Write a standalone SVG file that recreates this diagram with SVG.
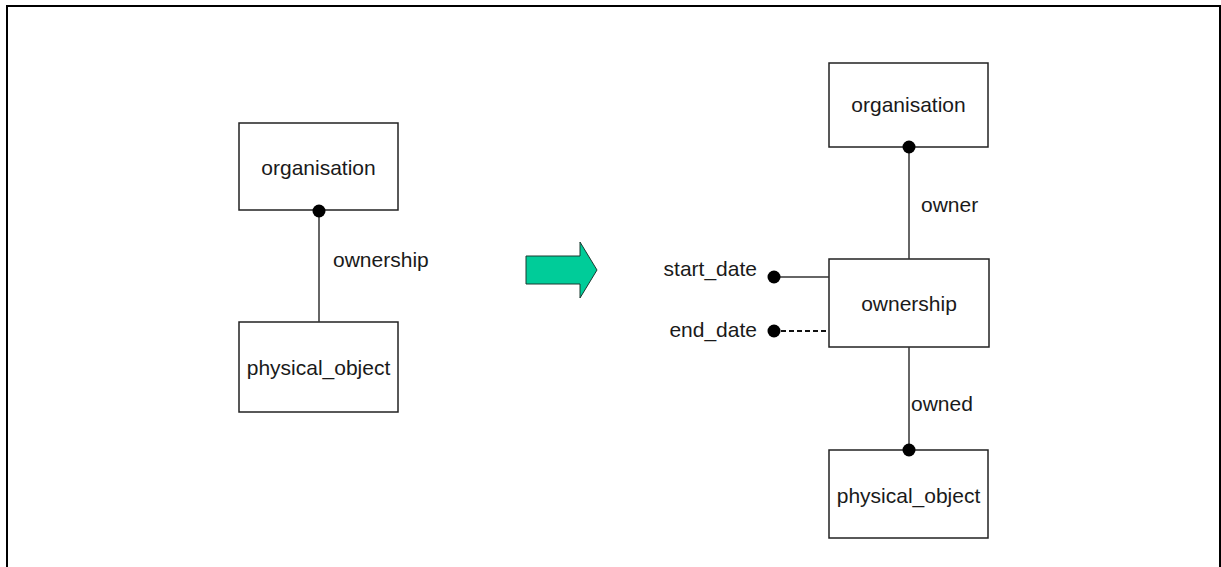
<svg xmlns="http://www.w3.org/2000/svg" width="1221" height="567" viewBox="0 0 1221 567">
  <style>
    .box { fill: #ffffff; stroke: #222222; stroke-width: 1.5; }
    .link { stroke: #333333; stroke-width: 1.5; fill: none; }
    .dash { stroke-dasharray: 5 3; stroke-width: 2; stroke: #111111; }
    .dot { fill: #000000; }
    text { font-family: "Liberation Sans", Arial, sans-serif; font-size: 21px; fill: #1a1a1a; }
    .mid { text-anchor: middle; }
    .end { text-anchor: end; }
  </style>
  <rect width="1221" height="567" fill="#ffffff"/>
  <!-- outer frame -->
  <rect x="7" y="6" width="1213" height="570" fill="none" stroke="#000000" stroke-width="2"/>

  <!-- left: simple relationship -->
  <g id="org-left">
    <rect class="box" x="239" y="123" width="159" height="87"/>
    <text class="mid" x="318.5" y="175">organisation</text>
  </g>
  <g id="phys-left">
    <rect class="box" x="239" y="322" width="159" height="90"/>
    <text class="mid" x="318.5" y="375">physical_object</text>
  </g>

  <!-- transformation arrow -->
  <g id="arrow">
    <polygon points="526,256 580,256 580,242 597,270 580,298 580,284 526,284" fill="#00cc99" stroke="#1a3a30" stroke-width="1"/>
  </g>

  <!-- right: relationship as entity -->
  <g id="org-right">
    <rect class="box" x="829" y="63" width="159" height="84"/>
    <text class="mid" x="908.5" y="112">organisation</text>
  </g>
  <g id="ownership">
    <rect class="box" x="829" y="259" width="160" height="88"/>
    <text class="mid" x="909" y="311">ownership</text>
  </g>
  <g id="start-date">
    <text class="end" x="757" y="276">start_date</text>
  </g>
  <g id="end-date">
    <text class="end" x="757" y="337">end_date</text>
  </g>
  <g id="phys-right">
    <rect class="box" x="829" y="450" width="159" height="88"/>
    <text class="mid" x="908.5" y="503">physical_object</text>
  </g>

  <!-- connectors, drawn over the boxes so the dots sit on the edges -->
  <g id="connectors">
    <line class="link" x1="319" y1="210" x2="319" y2="322"/>
    <circle class="dot" cx="319" cy="211" r="6.5"/>
    <line class="link" x1="909" y1="147" x2="909" y2="259"/>
    <circle class="dot" cx="909" cy="147" r="6.5"/>
    <line class="link" x1="909" y1="347" x2="909" y2="450"/>
    <circle class="dot" cx="909" cy="450" r="6.5"/>
    <line class="link" x1="774" y1="277" x2="829" y2="277"/>
    <circle class="dot" cx="774" cy="277" r="6.5"/>
    <line class="link dash" x1="781" y1="331" x2="829" y2="331"/>
    <circle class="dot" cx="774" cy="331" r="6.5"/>
    <text x="333" y="267">ownership</text>
    <text x="921" y="212">owner</text>
    <text x="911" y="411">owned</text>
  </g>
</svg>
